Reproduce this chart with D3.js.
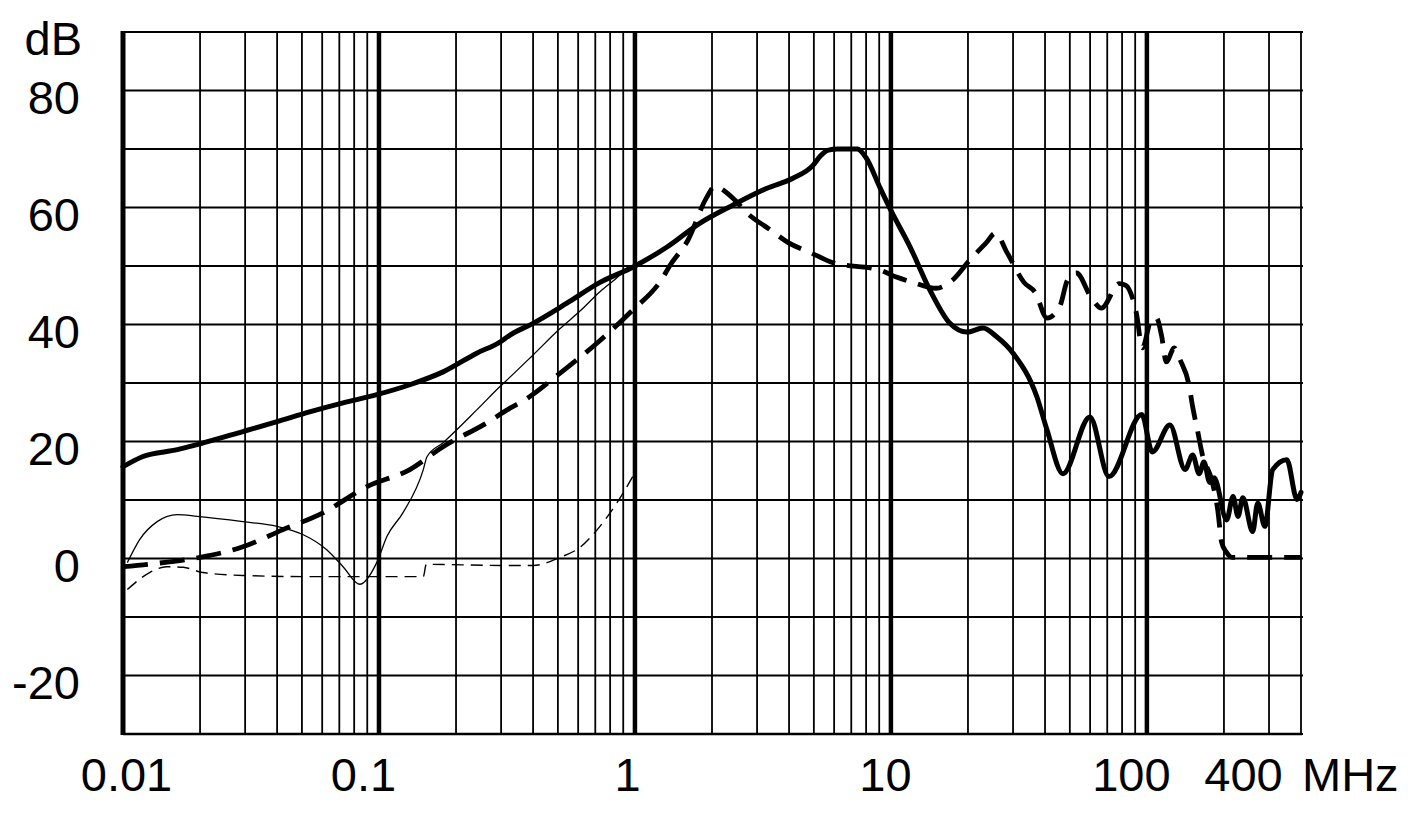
<!DOCTYPE html>
<html>
<head>
<meta charset="utf-8">
<script src="https://cdn.jsdelivr.net/npm/d3@7"></script>
<style>
  html, body { margin: 0; padding: 0; background: #fff; }
  svg { display: block; }
  text { font-family: "Liberation Sans", Arial, sans-serif; fill: #000; }
</style>
</head>
<body>
<svg id="chart" width="1422" height="825"></svg>
<script>
// ---- data (frequency in MHz, level in dB) ----
const xTickValues = [0.01, 0.1, 1, 10, 100, 400];
const xTickLabels = ["0.01", "0.1", "1", "10", "100", "400"];
const yTickValues = [-20, 0, 20, 40, 60, 80];
const yTickLabels = ["-20", "0", "20", "40", "60", "80"];
const xUnit = "MHz";
const yUnit = "dB";

// thick solid
const seriesThickSolid = [
  [0.01, 15.7], [0.0119, 17.4], [0.0163, 18.6], [0.02, 19.6], [0.0294, 21.7],
  [0.04, 23.4], [0.054, 25.1], [0.0724, 26.6], [0.098, 28.0], [0.132, 29.7],
  [0.178, 31.9], [0.241, 35.1], [0.297, 37.0], [0.325, 38.2], [0.4, 40.2],
  [0.54, 43.6], [0.73, 47.2], [0.98, 49.8], [1.33, 53.2], [1.79, 57.3],
  [2.41, 60.4], [3.28, 63.3], [4.14, 65.0], [4.96, 67.2], [5.3, 68.8], [5.7, 69.8],
  [6.2, 70.0], [7.4, 70.0], [8.0, 68.5], [9.06, 63.4], [10, 59.5],
  [11.9, 53.2], [14.2, 45.9], [17.0, 40.2], [19.8, 38.7], [22.9, 39.4],
  [25.9, 37.9], [30, 35.1], [37.2, 27.6], [40.7, 22.0], [47, 14.5],
  [59.9, 24.2], [71.1, 14.0], [95.5, 24.6], [105, 18.2], [123, 22.8],
  [141, 15.2], [151, 17.7], [160, 14.5], [167, 16.5], [176, 13.0],
  [183, 13.8], [205, 6.6], [217, 10.6], [227, 7.2], [237, 10.4],
  [259, 4.6], [271, 9.5], [289, 5.5], [310, 15.2], [352, 16.9],
  [386, 10.1], [400, 11.3]
];

// thick long-dashed
const seriesThickDashed = [
  [0.01, -1.4], [0.0131, -0.9], [0.02, 0.2], [0.0294, 2.0], [0.042, 4.9],
  [0.0604, 7.8], [0.0898, 12.3], [0.132, 15.2], [0.178, 19.1], [0.264, 23.2],
  [0.325, 25.7], [0.371, 27.1], [0.51, 31.7], [0.71, 36.8], [0.96, 42.1],
  [1.28, 47.9], [1.37, 50.1], [1.61, 54.4], [1.9, 61.6], [2.05, 63.6],
  [2.4, 61.7], [2.75, 59.0], [3.4, 56.1], [3.97, 54.0], [4.85, 52.3],
  [5.9, 50.6], [9.06, 49.3], [10.5, 48.1], [12.2, 47.2], [15.0, 46.2],
  [17.4, 47.6], [20.3, 51.0], [23.5, 53.9], [25.6, 55.6], [28.5, 52.2],
  [33.1, 47.2], [36.7, 45.4], [40.7, 41.1], [45.6, 43.0], [49, 47.6],
  [53, 48.8], [60.8, 44.5], [66.4, 42.8], [78, 47.0], [82.7, 46.7],
  [91, 41.9], [96, 36.0], [104, 40.8], [109, 41.1], [114, 38.2],
  [119, 33.6], [128, 36.0], [135, 33.9], [146, 29.7], [151, 25.9],
  [158, 21.7], [164, 18.1], [180, 13.1], [189, 8.4], [196, 2.7],
  [205, 1.0], [215, 0.2], [400, 0.2]
];

// thin solid
const seriesThinSolid = [
  [0.0104, -0.7], [0.0116, 3.2], [0.0136, 6.3], [0.0163, 7.5], [0.0195, 7.2],
  [0.0294, 6.3], [0.04, 5.5], [0.0504, 4.1], [0.0625, 1.5], [0.0724, -1.4],
  [0.084, -4.4], [0.098, -0.7], [0.1075, 3.8], [0.124, 7.8], [0.149, 15.2],
  [0.154, 17.4], [0.178, 19.8], [0.241, 25.4], [0.297, 29.4], [0.325, 31.0],
  [0.4, 34.8], [0.51, 39.3], [0.61, 42.3], [0.73, 45.6],
  [0.85, 48.0], [0.95, 50.0]
];

// thin short-dashed
const seriesThinDashed = [
  [0.0104, -5.3], [0.0127, -2.4], [0.0148, -1.4], [0.0172, -1.5], [0.0205, -2.4],
  [0.0294, -2.9], [0.054, -3.1], [0.098, -3.1], [0.149, -3.1], [0.153, -1.0],
  [0.325, -1.2], [0.4, -1.2], [0.51, 0.2], [0.61, 1.9], [0.73, 5.5],
  [0.85, 9.5], [0.98, 14.0]
];

// ---- layout ----
const plotLeft = 123, plotRight = 1301, plotTop = 32, plotBottom = 734;
const svg = d3.select("#chart");

const x = d3.scaleLog().domain([0.01, 400]).range([plotLeft, plotRight]);
const y = d3.scaleLinear().domain([-30, 90]).range([plotBottom, plotTop]);

// vertical grid
const minorX = [];
for (let e = -2; e <= 2; e++) {
  for (let k = 1; k <= 9; k++) {
    const v = k * Math.pow(10, e);
    if (v <= 400.0001) minorX.push(+v.toPrecision(6));
  }
}
const isDecade = v => Math.abs(Math.log10(v) - Math.round(Math.log10(v))) < 1e-9;

const grid = svg.append("g");
grid.selectAll("line.h")
  .data(d3.range(-30, 91, 10))
  .join("line")
  .attr("x1", plotLeft).attr("x2", plotRight + 2)
  .attr("y1", d => y(d)).attr("y2", d => y(d))
  .attr("stroke", "#000").attr("stroke-width", 1.8);

grid.selectAll("line.v")
  .data(minorX)
  .join("line")
  .attr("x1", d => x(d)).attr("x2", d => x(d))
  .attr("y1", plotTop).attr("y2", plotBottom)
  .attr("stroke", "#000")
  .attr("stroke-width", d => (isDecade(d) && d > 0.01 && d < 400) ? 4.5 : 1.8);

// frame
svg.append("line").attr("x1", plotLeft).attr("x2", plotLeft).attr("y1", plotTop - 1).attr("y2", plotBottom + 1)
  .attr("stroke", "#000").attr("stroke-width", 5);
svg.append("line").attr("x1", plotLeft).attr("x2", plotRight + 1).attr("y1", plotBottom).attr("y2", plotBottom)
  .attr("stroke", "#000").attr("stroke-width", 2.6);

// curves
const line = d3.line()
  .x(d => x(d[0])).y(d => y(d[1]))
  .curve(d3.curveMonotoneX);

const plot = svg.append("g").attr("fill", "none").attr("stroke", "#000")
  .attr("stroke-linejoin", "round");

plot.append("path").datum(seriesThinDashed).attr("d", line)
  .attr("stroke-width", 1.4).attr("stroke-dasharray", "12,7");
plot.append("path").datum(seriesThinSolid).attr("d", line)
  .attr("stroke-width", 1.3);
plot.append("path").datum(seriesThickDashed).attr("d", line)
  .attr("stroke-width", 4.8).attr("stroke-dasharray", "25,12");
plot.append("path").datum(seriesThickSolid).attr("d", line)
  .attr("stroke-width", 5).attr("stroke-linecap", "round");

// axes labels
const xLabelShift = { "0.01": 3, "0.1": -16, "1": -8, "10": -6, "100": -16, "400": -58 };
const xAxis = d3.axisBottom(x)
  .tickValues(xTickValues)
  .tickFormat((d, i) => xTickLabels[i])
  .tickSize(0).tickPadding(24);
const gx = svg.append("g").attr("transform", `translate(0,${plotBottom})`).call(xAxis);
gx.select(".domain").remove();
gx.selectAll("text")
  .attr("font-size", 47)
  .attr("font-family", "'Liberation Sans', Arial, sans-serif")
  .attr("dx", (d, i) => xLabelShift[xTickLabels[i]]);

const yAxis = d3.axisLeft(y)
  .tickValues(yTickValues)
  .tickFormat((d, i) => yTickLabels[i])
  .tickSize(0).tickPadding(43);
const gy = svg.append("g").attr("transform", `translate(${plotLeft},0)`).call(yAxis);
gy.select(".domain").remove();
gy.selectAll("text")
  .attr("font-size", 47)
  .attr("font-family", "'Liberation Sans', Arial, sans-serif")
  .attr("dy", "0.48em");

// units
svg.append("text").attr("x", 82).attr("y", 55).attr("text-anchor", "end")
  .attr("font-size", 47).text(yUnit);
svg.append("text").attr("x", 1302).attr("y", 791.4).attr("text-anchor", "start")
  .attr("font-size", 47).text(xUnit);
</script>
</body>
</html>
